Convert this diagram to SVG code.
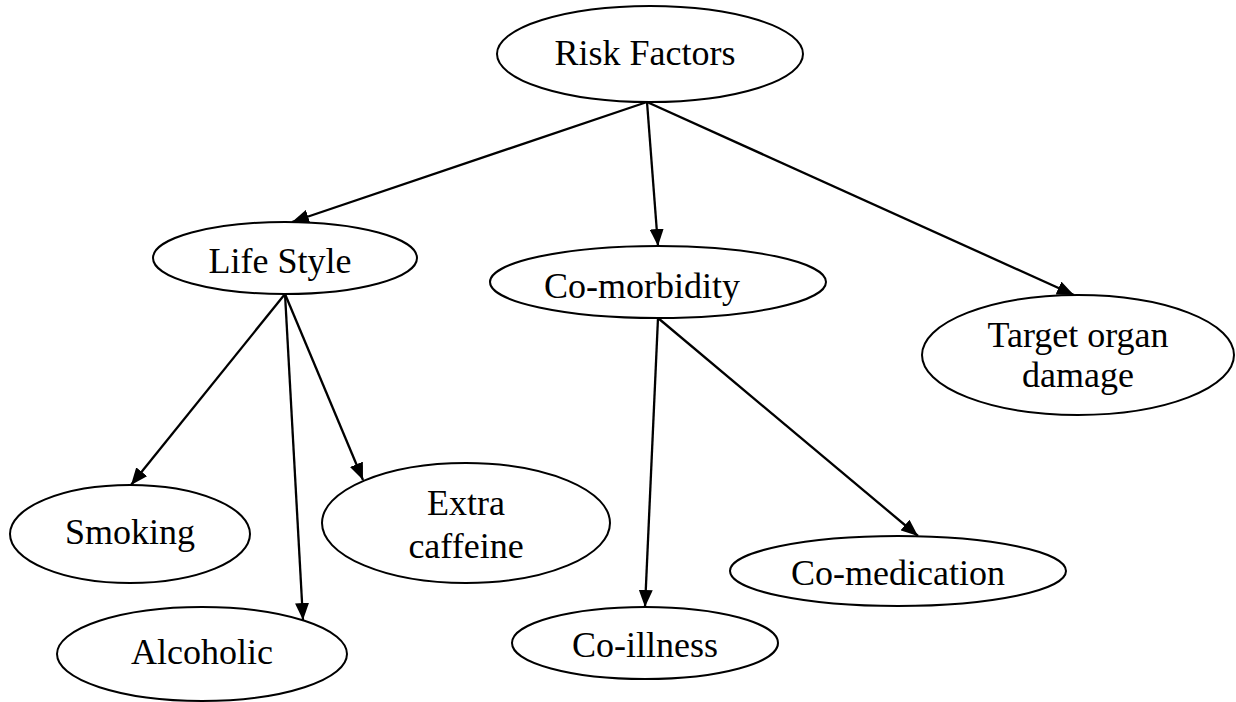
<svg xmlns="http://www.w3.org/2000/svg" width="1236" height="702" viewBox="0 0 1236 702">
<style>
.n{fill:#fff;stroke:#000;stroke-width:2}
.t{font-family:"Liberation Serif","Times New Roman",serif;font-size:36px;fill:#000;text-anchor:middle}
.e{stroke:#000;stroke-width:2.3;fill:none;marker-end:url(#ah)}
</style>
<defs>
<marker id="ah" markerWidth="17" markerHeight="14" refX="17" refY="7" orient="auto" markerUnits="userSpaceOnUse">
<path d="M0,0 L17,7 L0,14 z" fill="#000"/>
</marker>
</defs>
<rect width="1236" height="702" fill="#fff"/>
<g id="connectors">
<line class="e" x1="647" y1="102" x2="292" y2="222"/>
<line class="e" x1="647" y1="102" x2="658" y2="246"/>
<line class="e" x1="647" y1="102" x2="1074" y2="295"/>
<line class="e" x1="285" y1="294" x2="131" y2="485"/>
<line class="e" x1="285" y1="294" x2="303" y2="620"/>
<line class="e" x1="285" y1="294" x2="363" y2="480"/>
<line class="e" x1="658" y1="318" x2="645" y2="607"/>
<line class="e" x1="658" y1="318" x2="918" y2="536"/>
</g>
<g id="risk-factors"><ellipse class="n" cx="650" cy="54" rx="153" ry="48"/><text class="t" x="645" y="65">Risk Factors</text></g>
<g id="life-style"><ellipse class="n" cx="285" cy="258" rx="132" ry="36"/><text class="t" x="280" y="273">Life Style</text></g>
<g id="co-morbidity"><ellipse class="n" cx="658" cy="282" rx="168" ry="36"/><text class="t" x="642" y="298">Co-morbidity</text></g>
<g id="target-organ-damage"><ellipse class="n" cx="1078" cy="355" rx="156" ry="60"/><text class="t" x="1078" y="347">Target organ</text><text class="t" x="1078" y="387">damage</text></g>
<g id="smoking"><ellipse class="n" cx="130" cy="534" rx="120" ry="49"/><text class="t" x="130" y="544">Smoking</text></g>
<g id="extra-caffeine"><ellipse class="n" cx="466" cy="523" rx="144" ry="60"/><text class="t" x="466" y="515">Extra</text><text class="t" x="466" y="558">caffeine</text></g>
<g id="alcoholic"><ellipse class="n" cx="202" cy="654" rx="145" ry="47"/><text class="t" x="202" y="664">Alcoholic</text></g>
<g id="co-illness"><ellipse class="n" cx="645" cy="643" rx="133" ry="36"/><text class="t" x="645" y="657">Co-illness</text></g>
<g id="co-medication"><ellipse class="n" cx="898" cy="571" rx="168" ry="35"/><text class="t" x="898" y="585">Co-medication</text></g>
</svg>
